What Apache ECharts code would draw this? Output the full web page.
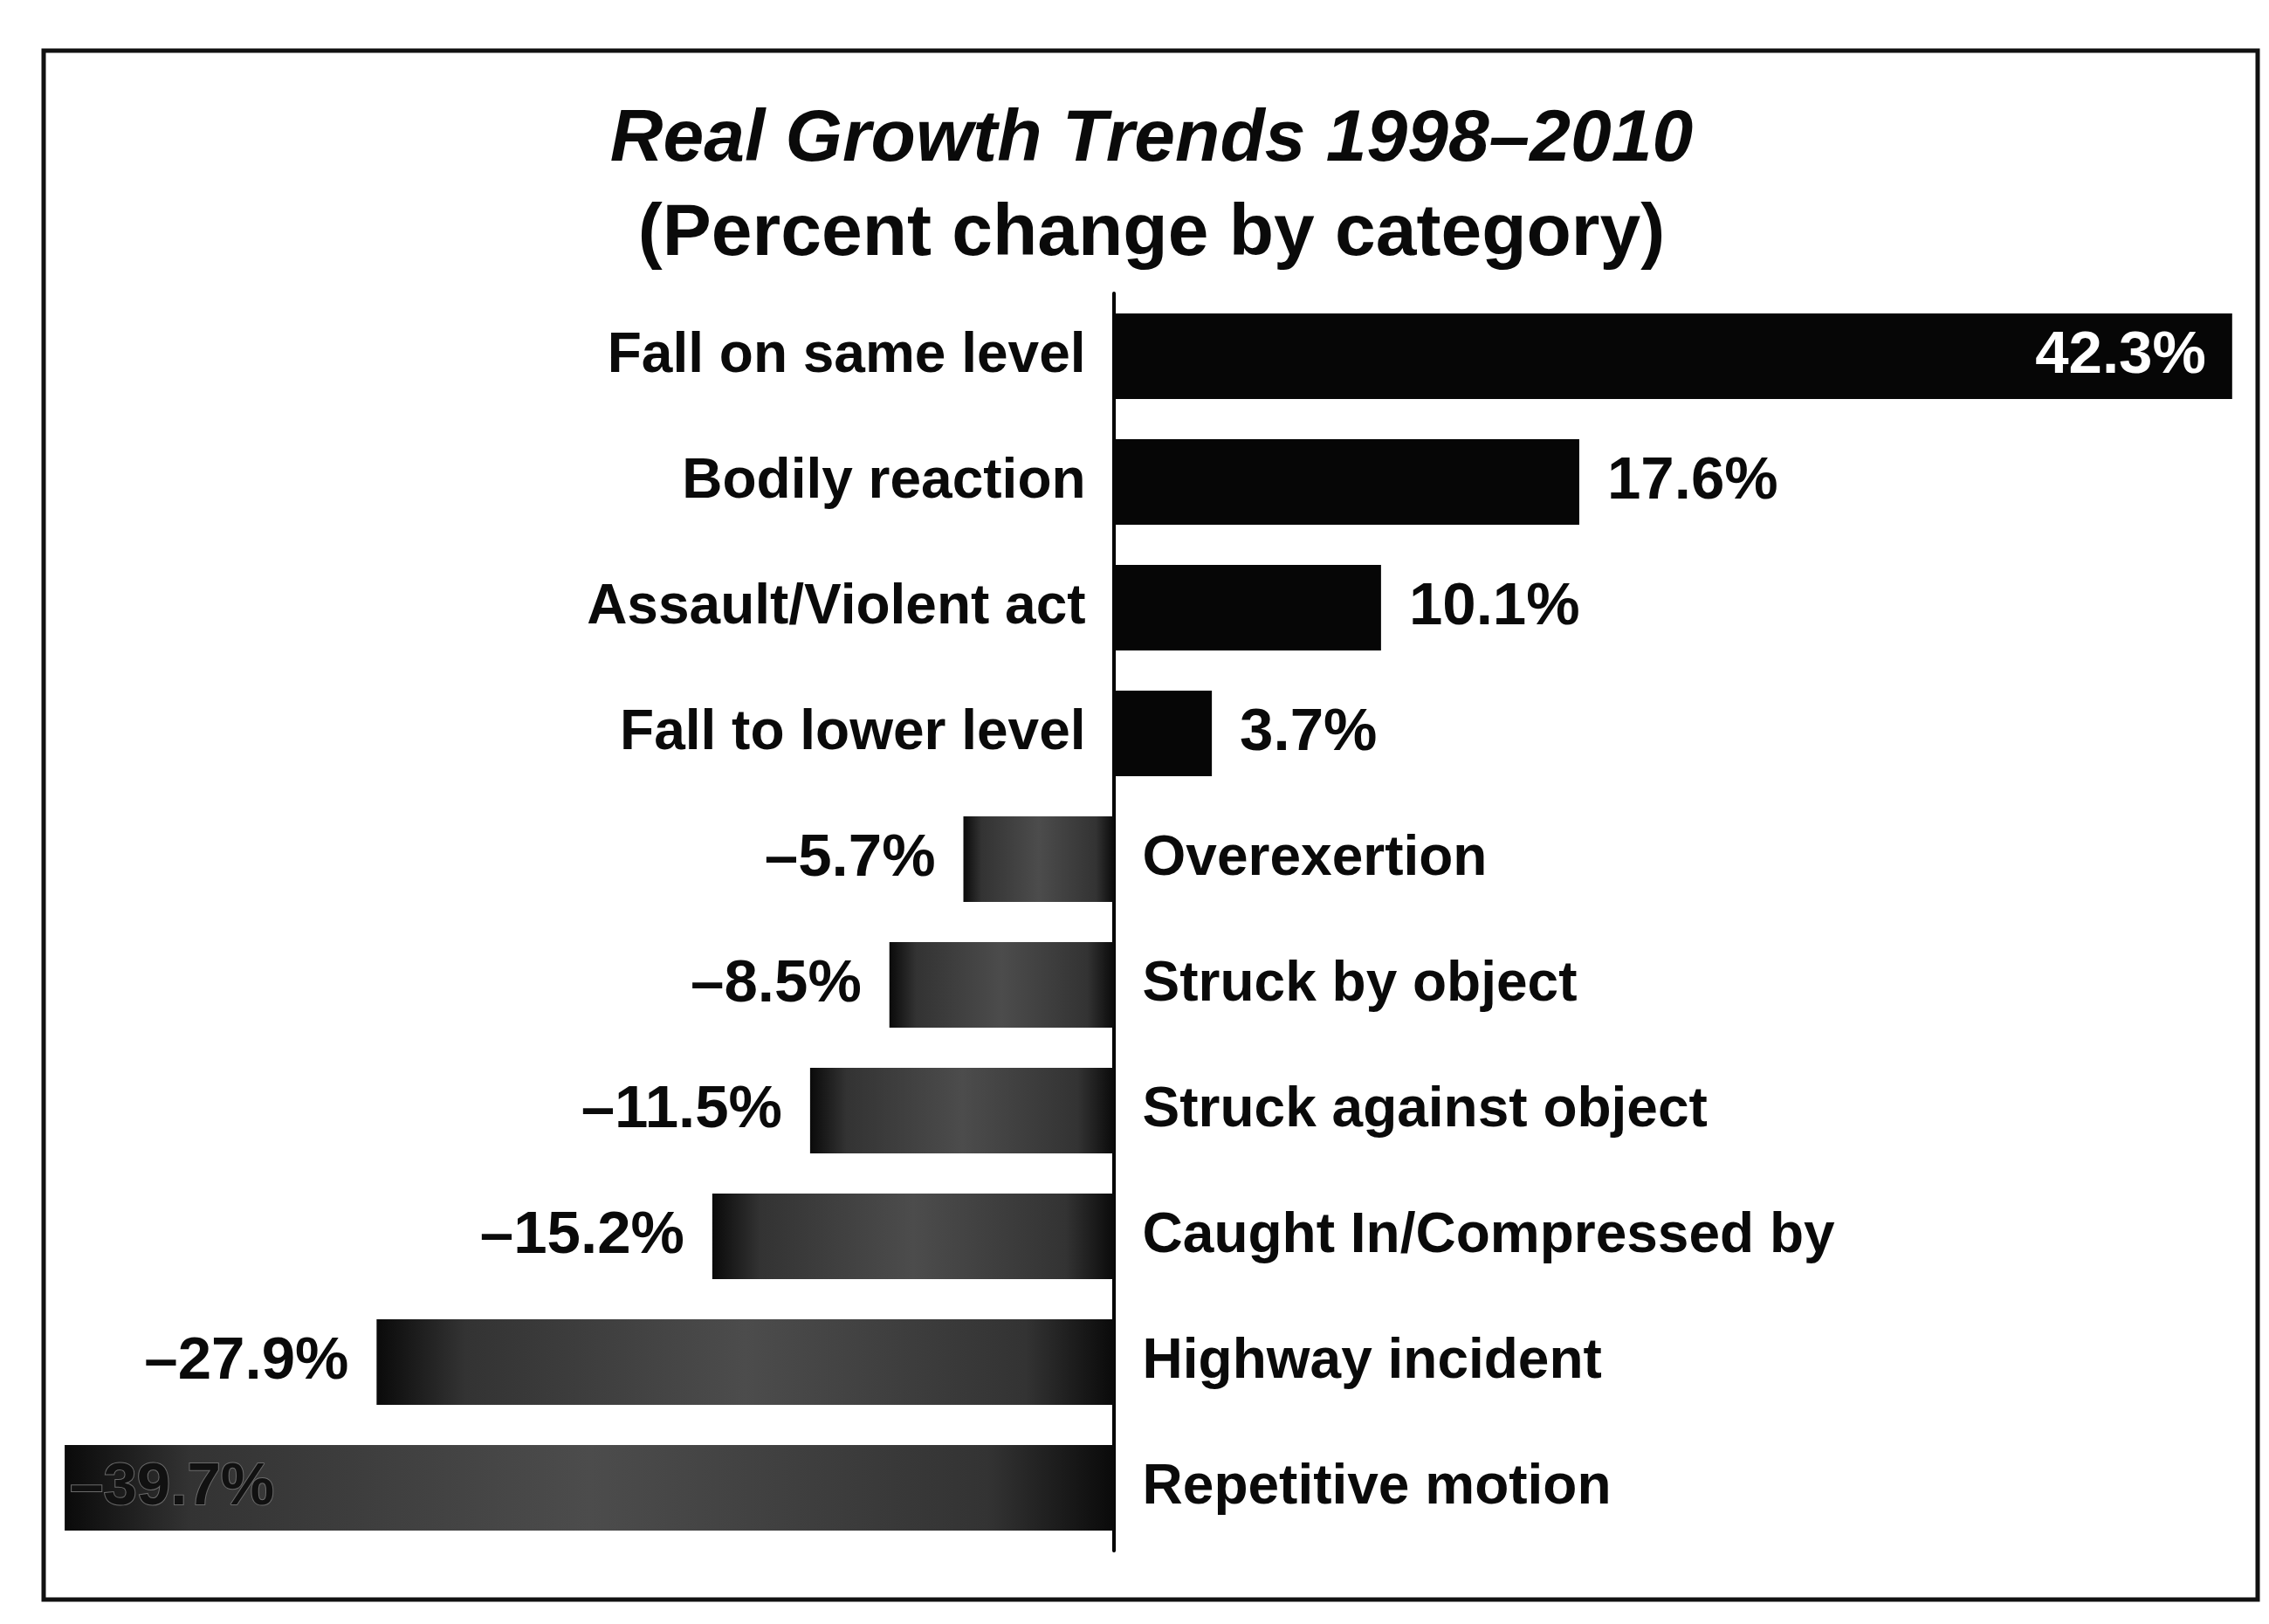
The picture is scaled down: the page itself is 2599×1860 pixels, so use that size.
<!DOCTYPE html>
<html>
<head>
<meta charset="utf-8">
<script src="https://cdn.jsdelivr.net/npm/echarts@6/dist/echarts.min.js"></script>
<style>
html,body{margin:0;padding:0;background:#fff;}
#chart{width:2599px;height:1860px;}
</style>
</head>
<body>
<div id="chart"></div>
<script>
const titleLine1 = 'Real Growth Trends 1998\u20132010';
const titleLine2 = '(Percent change by category)';
const categories = [
  'Fall on same level',
  'Bodily reaction',
  'Assault/Violent act',
  'Fall to lower level',
  'Overexertion',
  'Struck by object',
  'Struck against object',
  'Caught In/Compressed by',
  'Highway incident',
  'Repetitive motion'
];
const values = [42.3, 17.6, 10.1, 3.7, -5.7, -8.5, -11.5, -15.2, -27.9, -39.7];

const LABEL_FONT = "'Liberation Sans', Arial, sans-serif";
const TITLE_FONT = "'Liberation Sans', Arial, sans-serif";

function barColor(v) {
  if (v >= 0) return '#060606';
  return {
    type: 'linear', x: 0, y: 0, x2: 1, y2: 0,
    colorStops: [
      {offset: 0, color: '#0a0a0a'},
      {offset: 0.12, color: '#333333'},
      {offset: 0.5, color: '#4c4c4c'},
      {offset: 0.88, color: '#333333'},
      {offset: 1, color: '#0a0a0a'}
    ]
  };
}

const barData = values.map((v, i) => {
  const item = { value: v, itemStyle: { color: barColor(v) } };
  if (i === 0) {
    item.label = { position: 'insideRight', color: '#ffffff', distance: 30 };
  } else if (i === values.length - 1) {
    item.label = { position: 'insideLeft', color: '#111111', distance: 6,
                   textBorderColor: '#6a6a6a', textBorderWidth: 2 };
  } else {
    item.label = { position: v >= 0 ? 'right' : 'left' };
  }
  return item;
});

const nameData = categories.map((c, i) => ({
  value: [0, c],
  label: { position: values[i] >= 0 ? 'left' : 'right' }
}));

const chart = echarts.init(document.getElementById('chart'));
chart.setOption({
  backgroundColor: '#ffffff',
  animation: false,
  title: {
    text: '{a|' + titleLine1 + '}\n{b|' + titleLine2 + '}',
    left: 1314,
    top: 102,
    textAlign: 'center',
    textStyle: {
      rich: {
        a: { fontFamily: TITLE_FONT, fontStyle: 'italic', fontWeight: 'bold', fontSize: 84, color: '#0a0a0a', lineHeight: 108, align: 'center' },
        b: { fontFamily: TITLE_FONT, fontWeight: 'bold', fontSize: 84, color: '#0a0a0a', lineHeight: 108, align: 'center' }
      }
    }
  },
  graphic: [{
    type: 'rect',
    shape: { x: 50, y: 58, width: 2536, height: 1774 },
    style: { fill: 'none', stroke: '#111', lineWidth: 5 },
    silent: true
  }],
  grid: { left: 65, top: 336, width: 2513, height: 1440 },
  xAxis: {
    type: 'value', min: -40, max: 43,
    axisLine: { show: false }, axisTick: { show: false },
    axisLabel: { show: false }, splitLine: { show: false }
  },
  yAxis: {
    type: 'category', data: categories, inverse: true,
    axisLine: { show: true, onZero: true, lineStyle: { color: '#000', width: 4 } },
    axisTick: { show: false }, axisLabel: { show: false }
  },
  series: [
    {
      type: 'bar',
      data: barData,
      barWidth: 98,
      z: 1,
      label: {
        show: true,
        distance: 32,
        fontFamily: LABEL_FONT, fontWeight: 'bold', fontSize: 69, color: '#0a0a0a',
        formatter: p => p.value.toFixed(1).replace('-', '\u2013') + '%'
      }
    },
    {
      type: 'scatter',
      data: nameData,
      symbolSize: 1,
      itemStyle: { color: 'rgba(0,0,0,0)', opacity: 1 },
      z: 5,
      label: {
        show: true,
        distance: 32,
        opacity: 1,
        fontFamily: LABEL_FONT, fontWeight: 'bold', fontSize: 64, color: '#0a0a0a',
        formatter: p => p.value[1]
      }
    }
  ]
});
</script>
</body>
</html>
